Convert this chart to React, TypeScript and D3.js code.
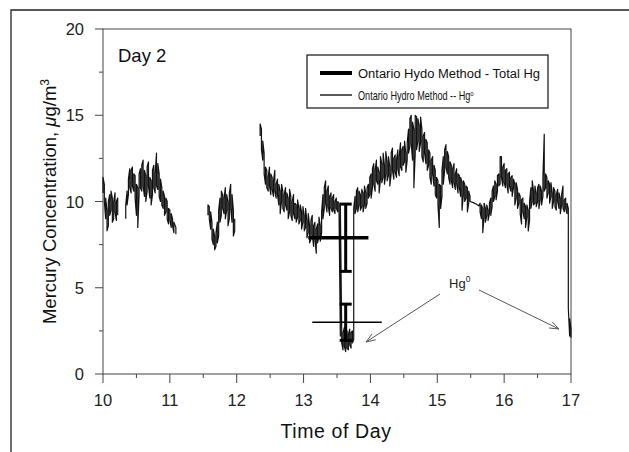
import React from "react";
import * as d3 from "d3";

// CEM trace, read as [time, low, high] per small time step; gaps split segments
const seg1: [number, number, number][] = [
  [10.0, 10.5, 11.4], [10.02, 10.0, 11.0], [10.04, 9.0, 10.2], [10.06, 8.3, 9.5],
  [10.08, 8.6, 10.0], [10.1, 9.2, 10.4], [10.12, 9.5, 10.6], [10.14, 8.8, 10.2],
  [10.16, 9.0, 10.0], [10.18, 9.4, 10.5], [10.2, 8.9, 10.0], [10.22, 9.2, 10.2],
];
const seg2: [number, number, number][] = [
  [10.34, 9.0, 9.8], [10.36, 9.8, 10.6], [10.38, 10.4, 11.3], [10.4, 10.8, 11.9],
  [10.42, 10.5, 11.8], [10.44, 10.9, 12.0], [10.46, 10.6, 11.6], [10.48, 10.2, 11.5],
  [10.5, 9.2, 11.0], [10.52, 8.5, 10.8], [10.54, 10.4, 11.6], [10.56, 10.8, 11.9],
  [10.58, 10.6, 12.1], [10.6, 10.9, 12.4], [10.62, 10.3, 11.8], [10.64, 10.0, 11.5],
  [10.66, 10.6, 12.0], [10.68, 10.9, 12.3], [10.7, 10.2, 11.4], [10.72, 9.8, 11.2],
  [10.74, 10.4, 11.8], [10.76, 10.8, 12.1], [10.78, 10.5, 11.6], [10.8, 10.9, 12.8],
  [10.82, 10.7, 12.2], [10.84, 10.3, 11.6], [10.86, 10.0, 11.3], [10.88, 9.8, 10.8],
  [10.9, 9.6, 10.6], [10.92, 9.2, 10.3], [10.94, 9.4, 10.2], [10.96, 9.0, 10.0],
  [10.98, 8.7, 9.6], [11.0, 8.9, 9.5], [11.02, 8.5, 9.3], [11.04, 8.6, 9.0],
  [11.06, 8.2, 8.8], [11.09, 8.1, 8.5],
];
const seg3: [number, number, number][] = [
  [11.57, 9.2, 9.8], [11.59, 9.0, 9.7], [11.61, 8.4, 9.4], [11.63, 7.8, 8.8],
  [11.65, 7.5, 8.4], [11.67, 7.2, 8.0], [11.69, 7.4, 8.2], [11.71, 7.6, 8.8],
  [11.73, 8.0, 9.5], [11.75, 8.8, 10.2], [11.77, 9.2, 10.6], [11.79, 9.6, 10.4],
  [11.81, 9.3, 10.2], [11.83, 9.0, 10.8], [11.85, 9.5, 10.4], [11.87, 8.6, 10.0],
  [11.89, 9.0, 10.5], [11.91, 9.6, 11.0], [11.93, 8.8, 10.4], [11.95, 8.0, 9.5],
  [11.97, 8.3, 9.0],
];
const seg4: [number, number, number][] = [
  [12.35, 13.8, 14.5], [12.37, 13.0, 14.2], [12.39, 12.4, 13.5], [12.41, 11.6, 12.8],
  [12.43, 11.0, 12.0], [12.45, 10.8, 11.8], [12.47, 10.6, 11.4], [12.49, 10.9, 12.0],
  [12.51, 10.4, 11.6], [12.53, 10.7, 11.4], [12.55, 10.3, 11.2], [12.57, 10.6, 11.8],
  [12.59, 10.2, 11.0], [12.61, 10.4, 11.3], [12.63, 9.8, 11.0], [12.65, 9.3, 10.6],
  [12.67, 10.0, 11.0], [12.69, 9.6, 10.6], [12.71, 9.4, 10.4], [12.73, 9.8, 10.8],
  [12.75, 9.5, 10.5], [12.77, 9.0, 10.2], [12.79, 9.4, 10.7], [12.81, 9.2, 10.3],
  [12.83, 8.9, 10.0], [12.85, 9.3, 10.4], [12.87, 9.0, 9.9], [12.89, 8.8, 9.8],
  [12.91, 9.1, 10.1], [12.93, 8.7, 9.6], [12.95, 8.9, 9.8], [12.97, 8.4, 9.4],
  [12.99, 8.8, 9.7], [13.01, 8.3, 9.2], [13.03, 8.5, 9.6], [13.05, 7.9, 8.9],
  [13.07, 8.2, 9.3], [13.09, 7.6, 8.6], [13.11, 7.8, 8.9], [13.13, 8.1, 9.2],
  [13.15, 7.4, 8.6], [13.17, 7.8, 8.8], [13.19, 7.0, 8.4], [13.21, 7.6, 8.7],
  [13.23, 8.0, 9.1], [13.25, 7.7, 8.6], [13.27, 8.2, 9.4], [13.29, 9.0, 10.4],
  [13.31, 9.6, 10.8], [13.33, 9.9, 11.2], [13.35, 9.4, 10.6], [13.37, 9.7, 10.9],
  [13.39, 9.2, 10.3], [13.41, 9.6, 10.5], [13.43, 9.4, 10.2], [13.45, 9.5, 10.4],
  [13.47, 9.3, 10.0], [13.49, 9.6, 10.2], [13.51, 9.4, 10.0], [13.53, 9.5, 9.9],
  [13.55, 2.2, 9.8], [13.57, 1.8, 2.6], [13.59, 1.4, 2.4], [13.61, 1.6, 2.7],
  [13.63, 1.3, 2.2], [13.65, 1.5, 2.5], [13.67, 1.4, 2.3], [13.69, 1.7, 2.6],
  [13.71, 1.5, 2.4], [13.73, 1.8, 2.5], [13.75, 2.0, 9.6], [13.77, 9.3, 10.3],
  [13.79, 9.6, 10.6], [13.81, 9.4, 10.8], [13.83, 9.8, 10.6], [13.85, 9.5, 10.4],
  [13.87, 9.7, 10.7], [13.89, 9.4, 10.5], [13.91, 9.8, 10.9], [13.93, 9.6, 10.5],
  [13.95, 9.9, 10.8], [13.97, 10.2, 11.0], [13.99, 10.4, 11.4], [14.01, 10.2, 11.6],
  [14.03, 10.8, 11.9], [14.05, 11.0, 12.2], [14.07, 10.6, 11.8], [14.09, 11.2, 12.4],
  [14.11, 11.0, 12.0], [14.13, 10.5, 11.7], [14.15, 11.3, 12.6], [14.17, 11.1, 12.2],
  [14.19, 11.4, 12.8], [14.21, 11.0, 12.1], [14.23, 11.6, 12.9], [14.25, 11.2, 12.3],
  [14.27, 11.5, 12.6], [14.29, 10.9, 12.0], [14.31, 11.6, 12.8], [14.33, 11.8, 13.1],
  [14.35, 11.3, 12.5], [14.37, 11.7, 12.7], [14.39, 11.4, 12.4], [14.41, 11.9, 13.0],
  [14.43, 11.5, 12.6], [14.45, 12.0, 13.4], [14.47, 11.8, 13.0], [14.49, 12.1, 13.2],
  [14.51, 12.3, 13.5], [14.53, 11.7, 12.8], [14.55, 12.4, 13.4], [14.57, 12.8, 14.2],
  [14.59, 13.2, 14.8], [14.61, 13.4, 15.0], [14.63, 12.4, 14.6], [14.65, 10.8, 14.2],
  [14.67, 12.8, 15.0], [14.69, 13.0, 14.9], [14.71, 13.5, 14.8], [14.73, 12.9, 14.4],
  [14.75, 13.4, 14.9], [14.77, 12.6, 14.2], [14.79, 12.3, 13.8], [14.81, 12.8, 14.0],
  [14.83, 12.2, 13.6], [14.85, 11.8, 13.4], [14.87, 12.1, 13.0], [14.89, 11.4, 12.8],
  [14.91, 11.0, 12.4], [14.93, 11.6, 12.6], [14.95, 10.9, 12.1], [14.97, 10.4, 11.8],
  [14.99, 10.2, 11.4], [15.01, 9.8, 11.2], [15.03, 8.5, 11.0], [15.05, 9.6, 10.9],
  [15.07, 10.3, 11.8], [15.09, 11.0, 12.6], [15.11, 11.8, 13.0], [15.13, 12.0, 13.3],
  [15.15, 11.6, 12.9], [15.17, 11.4, 12.6], [15.19, 11.0, 12.3], [15.21, 11.2, 12.1],
  [15.23, 10.8, 11.9], [15.25, 11.1, 12.2], [15.27, 10.7, 11.6], [15.29, 11.0, 11.9],
  [15.31, 10.5, 11.6], [15.33, 10.8, 11.5], [15.35, 10.3, 11.4], [15.37, 9.5, 11.1],
  [15.39, 10.4, 11.2], [15.41, 10.0, 11.0], [15.43, 10.2, 10.9], [15.45, 9.4, 10.8],
  [15.47, 9.9, 10.6], [15.49, 10.0, 10.3], [15.53, 9.95, 9.95], [15.58, 9.85, 9.85],
  [15.62, 9.75, 9.75], [15.64, 9.4, 9.9], [15.66, 9.0, 9.8], [15.68, 8.2, 9.6],
  [15.7, 9.1, 9.9], [15.72, 8.8, 9.6], [15.74, 9.2, 9.8], [15.76, 8.9, 9.5],
  [15.78, 9.3, 9.9], [15.8, 9.2, 10.2], [15.82, 9.7, 10.6], [15.84, 10.0, 10.9],
  [15.86, 10.3, 11.2], [15.88, 10.1, 11.0], [15.9, 10.6, 11.5], [15.92, 10.9, 11.6],
  [15.94, 11.0, 12.6], [15.96, 11.4, 12.6], [15.98, 10.9, 12.0], [16.0, 11.1, 12.2],
  [16.02, 10.8, 11.8], [16.04, 11.0, 11.9], [16.06, 10.5, 11.6], [16.08, 10.9, 11.7],
  [16.1, 10.6, 11.4], [16.12, 10.3, 11.5], [16.14, 10.8, 11.3], [16.16, 9.8, 11.0],
  [16.18, 10.2, 11.1], [16.2, 9.6, 10.7], [16.22, 9.9, 10.5], [16.24, 9.3, 10.3],
  [16.26, 8.7, 10.1], [16.28, 9.4, 10.2], [16.3, 9.0, 9.9], [16.32, 8.5, 9.7],
  [16.34, 9.1, 9.8], [16.36, 8.3, 9.5], [16.38, 8.9, 10.0], [16.4, 9.6, 10.8],
  [16.42, 10.0, 11.2], [16.44, 9.8, 10.6], [16.46, 9.9, 10.9], [16.48, 9.7, 10.5],
  [16.5, 10.0, 10.8], [16.52, 9.6, 11.0], [16.54, 10.1, 10.9], [16.56, 9.8, 10.6],
  [16.58, 10.3, 11.4], [16.6, 10.6, 13.9], [16.62, 10.8, 11.6], [16.64, 10.2, 11.4],
  [16.66, 10.5, 11.2], [16.68, 9.9, 11.0], [16.7, 10.3, 11.1], [16.72, 9.6, 10.5],
  [16.74, 10.0, 10.8], [16.76, 9.7, 10.6], [16.78, 9.5, 10.4], [16.8, 10.0, 10.7],
  [16.82, 9.6, 10.5], [16.84, 9.3, 10.2], [16.86, 9.8, 10.4], [16.88, 9.6, 10.9],
  [16.9, 9.4, 10.1], [16.92, 9.6, 10.2], [16.94, 9.3, 9.9], [16.96, 3.8, 9.6],
  [16.98, 2.2, 3.2], [17.0, 2.1, 2.6],
];
const traceSegments = [seg1, seg2, seg3, seg4];

// Ontario Hydro method samples: total Hg and Hg0
const ohStart = [13.07, 13.13];
const ohEnd = [13.97, 14.17];
const ohMean = [7.9, 3.0];
const ohErr = [1.95, 1.05];
const ohWidth = [3.5, 1.4];
const errTime = 13.63;

const xTicks = [10, 11, 12, 13, 14, 15, 16, 17];
const xMinor = [10.5, 11.5, 12.5, 13.5, 14.5, 15.5, 16.5];
const yTicks = [0, 5, 10, 15, 20];
const yMinor = [2.5, 7.5, 12.5, 17.5];

const FONT = "'Liberation Sans', Arial, Helvetica, sans-serif";

const App = () => {
  const x = d3.scaleLinear().domain([10, 17]).range([103, 571]);
  const y = d3.scaleLinear().domain([0, 20]).range([374, 29]);

  const line = d3.line<[number, number]>().x(d => x(d[0])).y(d => y(d[1]));
  const tracePaths = traceSegments.map(seg => {
    const pts: [number, number][] = [];
    seg.forEach((d, i) => {
      if (i % 2 === 0) { pts.push([d[0], d[1]]); pts.push([d[0], d[2]]); }
      else { pts.push([d[0], d[2]]); pts.push([d[0], d[1]]); }
    });
    return line(pts);
  });

  const arrow = (x1: number, y1: number, x2: number, y2: number) => {
    const a = Math.atan2(y2 - y1, x2 - x1);
    const L = 10, s = 0.35;
    const p1 = [x2 - L * Math.cos(a - s), y2 - L * Math.sin(a - s)];
    const p2 = [x2 - L * Math.cos(a + s), y2 - L * Math.sin(a + s)];
    return `M${x1},${y1}L${x2},${y2}M${p1[0]},${p1[1]}L${x2},${y2}L${p2[0]},${p2[1]}`;
  };

  const ex = x(errTime);

  return (
    <svg width={629} height={452} style={{ position: "absolute", left: 0, top: 0, background: "#fff" }} fontFamily={FONT}>
      {/* outer frame */}
      <path d="M11,452V10H629" fill="none" stroke="#222" strokeWidth={1.3} />

      {/* plot frame */}
      <rect x={x(10)} y={y(20)} width={x(17) - x(10)} height={y(0) - y(20)} fill="none" stroke="#444" strokeWidth={1} />

      {/* y ticks */}
      {yTicks.map(t => (
        <g key={"y" + t}>
          <line x1={x(10) - 8} x2={x(10)} y1={y(t)} y2={y(t)} stroke="#444" />
          <text x={84} y={y(t) + 6} textAnchor="end" fontSize={16.5} fill="#222">{t}</text>
        </g>
      ))}
      {yMinor.map(t => (
        <line key={"ym" + t} x1={x(10) - 4} x2={x(10)} y1={y(t)} y2={y(t)} stroke="#444" />
      ))}

      {/* x ticks */}
      {xTicks.map(t => (
        <g key={"x" + t}>
          <line x1={x(t)} x2={x(t)} y1={y(0)} y2={y(0) + 9} stroke="#444" />
          <text x={x(t)} y={406} textAnchor="middle" fontSize={16.5} fill="#222">{t}</text>
        </g>
      ))}
      {xMinor.map(t => (
        <line key={"xm" + t} x1={x(t)} x2={x(t)} y1={y(0)} y2={y(0) + 4} stroke="#444" />
      ))}

      {/* axis titles */}
      <text x={336} y={438} textAnchor="middle" fontSize={19.5} letterSpacing={0.6} fill="#111">Time of Day</text>
      <text transform={`translate(56,${(y(0) + y(20)) / 2}) rotate(-90)`} textAnchor="middle" fontSize={18.5} fill="#111">
        Mercury Concentration, <tspan fontStyle="italic">μ</tspan>g/m<tspan dy={-7} fontSize={12}>3</tspan>
      </text>

      <text x={118} y={62} fontSize={18.5} fill="#111">Day 2</text>

      {/* CEM trace */}
      {tracePaths.map((p, i) => (
        <path key={"tr" + i} d={p || ""} fill="none" stroke="#111" strokeWidth={1.2} strokeLinejoin="round" />
      ))}

      {/* Ontario Hydro sample lines and error bars */}
      {ohMean.map((m, i) => (
        <g key={"oh" + i}>
          <line x1={x(ohStart[i])} x2={x(ohEnd[i])} y1={y(m)} y2={y(m)} stroke="#000" strokeWidth={ohWidth[i]} />
          <line x1={ex} x2={ex} y1={y(m + ohErr[i])} y2={y(m - ohErr[i])} stroke="#000" strokeWidth={3} />
          <line x1={ex - 6} x2={ex + 6} y1={y(m + ohErr[i])} y2={y(m + ohErr[i])} stroke="#000" strokeWidth={3} />
          <line x1={ex - 6} x2={ex + 6} y1={y(m - ohErr[i])} y2={y(m - ohErr[i])} stroke="#000" strokeWidth={3} />
        </g>
      ))}

      {/* legend */}
      <rect x={307} y={55} width={241} height={53} fill="#fff" stroke="#111" strokeWidth={1.2} />
      <line x1={320} x2={352} y1={73} y2={73} stroke="#000" strokeWidth={4} />
      <text x={358} y={77.5} fontSize={12.5} textLength={182} lengthAdjust="spacingAndGlyphs" fill="#111">Ontario Hydo Method - Total Hg</text>
      <line x1={320} x2={352} y1={95} y2={95} stroke="#000" strokeWidth={1.3} />
      <text transform="translate(358,99.5) scale(0.76,1)" fontSize={12} fill="#111">
        Ontario Hydro Method -- Hg<tspan dy={-4} fontSize={8}>o</tspan>
      </text>

      {/* Hg0 annotation */}
      <text x={449} y={288} fontSize={13} fill="#222">Hg<tspan dy={-6} fontSize={8.5}>0</tspan></text>
      <path d={arrow(440, 294, 366, 342)} fill="none" stroke="#555" strokeWidth={1} />
      <path d={arrow(479, 290, 559, 329)} fill="none" stroke="#555" strokeWidth={1} />
    </svg>
  );
};

export default App;
